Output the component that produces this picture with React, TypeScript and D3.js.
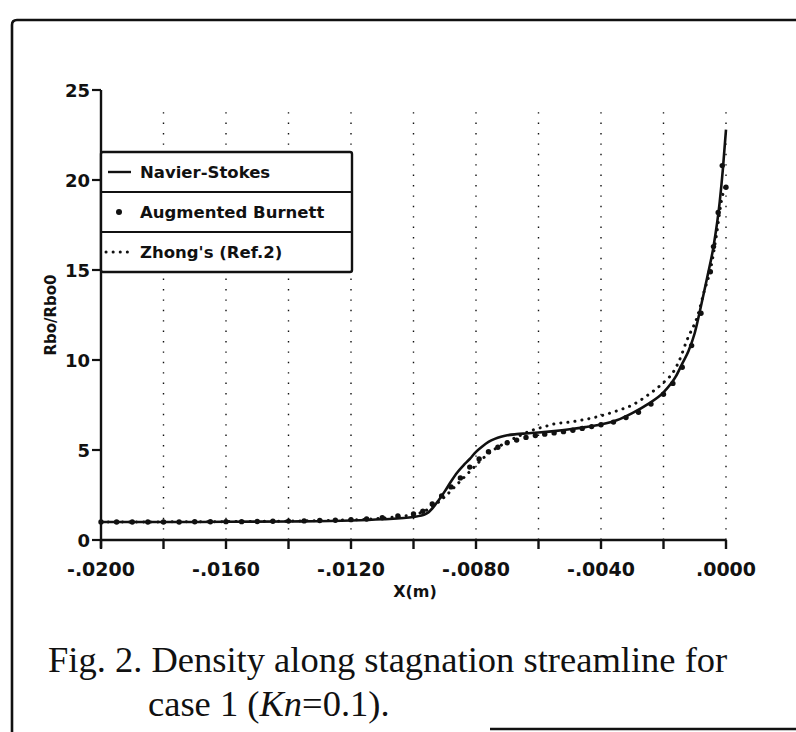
import React from "react";
import * as d3 from "d3";

// Distance from the body along the stagnation streamline, metres
const nsX = [-0.02, -0.018, -0.016, -0.014, -0.012, -0.011, -0.01, -0.0096, -0.0094, -0.0092, -0.009, -0.0088, -0.0086, -0.0084, -0.0082, -0.008, -0.0078, -0.0076, -0.0074, -0.0072, -0.007, -0.0067, -0.0064, -0.006, -0.0055, -0.005, -0.0045, -0.004, -0.0035, -0.003, -0.0025, -0.002, -0.0016, -0.0014, -0.0012, -0.001, -0.0008, -0.0006, -0.0004, -0.0002, -0.0001, 0];
const nsRho = [1.0, 1.0, 1.01, 1.03, 1.08, 1.15, 1.28, 1.45, 1.75, 2.2, 2.7, 3.25, 3.75, 4.15, 4.5, 4.9, 5.2, 5.45, 5.62, 5.74, 5.82, 5.88, 5.92, 5.97, 6.05, 6.15, 6.27, 6.42, 6.65, 7.05, 7.55, 8.2, 9.1, 9.8, 10.5, 11.5, 13.0, 14.6, 16.3, 18.8, 20.6, 22.8];

const abX = [-0.02, -0.0195, -0.019, -0.0185, -0.018, -0.0175, -0.017, -0.0165, -0.016, -0.0155, -0.015, -0.0145, -0.014, -0.0135, -0.013, -0.0125, -0.012, -0.0115, -0.011, -0.0105, -0.01, -0.0097, -0.0094, -0.0091, -0.0088, -0.0085, -0.0082, -0.0079, -0.0076, -0.0073, -0.007, -0.0067, -0.0064, -0.0061, -0.0058, -0.0055, -0.0052, -0.0049, -0.0046, -0.0043, -0.004, -0.0036, -0.0032, -0.0028, -0.0024, -0.002, -0.0017, -0.0014, -0.0011, -0.0008, -0.0005, -0.0004, -0.00025, -0.00012, 0];
const abRho = [1.0, 1.0, 1.0, 1.0, 1.0, 1.0, 1.01, 1.01, 1.02, 1.02, 1.03, 1.04, 1.05, 1.06, 1.08, 1.1, 1.13, 1.17, 1.24, 1.33, 1.45, 1.6, 2.0, 2.45, 2.95, 3.45, 4.05, 4.5, 4.9, 5.15, 5.4, 5.55, 5.7, 5.8, 5.88, 5.95, 6.02, 6.1, 6.2, 6.3, 6.4, 6.55, 6.8, 7.1, 7.55, 8.1, 8.7, 9.6, 10.8, 12.6, 14.9, 16.3, 18.2, 20.8, 19.6];

const zhX = [-0.02, -0.016, -0.012, -0.0105, -0.0098, -0.0094, -0.009, -0.0086, -0.0082, -0.0078, -0.0074, -0.007, -0.0066, -0.0062, -0.0058, -0.0055, -0.005, -0.0045, -0.004, -0.0035, -0.003, -0.0025, -0.002, -0.0017, -0.0015, -0.00125, -0.0009, -0.0007, -0.0005, -0.0003, -0.00015, 0];
const zhRho = [1.0, 1.02, 1.12, 1.3, 1.5, 1.85, 2.4, 3.1, 3.8, 4.5, 5.05, 5.45, 5.8, 6.1, 6.3, 6.45, 6.55, 6.7, 6.9, 7.17, 7.5, 8.05, 8.75, 9.3, 9.95, 11.1, 12.5, 13.8, 15.0, 17.0, 18.8, 19.8];

const xTicks = [-0.02, -0.018, -0.016, -0.014, -0.012, -0.01, -0.008, -0.006, -0.004, -0.002, 0];
const xTickLabels = [-0.02, -0.016, -0.012, -0.008, -0.004, 0];
const yTicks = [0, 5, 10, 15, 20, 25];
const legendLabels = ["Navier-Stokes", "Augmented Burnett", "Zhong's (Ref.2)"];

const AXIS_FONT = "'DejaVu Sans', sans-serif";
const SERIF = "'Liberation Serif', 'Times New Roman', serif";

const fmtX = (v: number) => {
  const s = Math.abs(v).toFixed(4).replace(/^0/, "");
  return v < 0 ? "-" + s : s;
};

export default function App() {
  const x = d3.scaleLinear().domain([-0.02, 0]).range([101, 726]);
  const y = d3.scaleLinear().domain([0, 25]).range([540, 90]);

  const ns = nsX.map((v, i) => [v, nsRho[i]] as [number, number]);
  const ab = abX.map((v, i) => [v, abRho[i]] as [number, number]);
  const zh = zhX.map((v, i) => [v, zhRho[i]] as [number, number]);

  const line = d3
    .line<[number, number]>()
    .x((d) => x(d[0]))
    .y((d) => y(d[1]))
    .curve(d3.curveMonotoneX);

  const ink = "#111";
  const legX = 101;
  const legY = 152;
  const rowH = 40;
  const legW = 251;

  return (
    <svg
      width={796}
      height={732}
      style={{ position: "absolute", left: 0, top: 0, background: "#fff" }}
    >
      {/* page frame */}
      <path d="M12,732 L12,25 Q12,20 17,20 L796,20" fill="none" stroke={ink} strokeWidth={2.6} />
      <line x1={490} x2={796} y1={729} y2={729} stroke={ink} strokeWidth={2.6} />

      {/* dotted vertical grid */}
      {xTicks.slice(1).map((t) => (
        <line
          key={"g" + t}
          x1={x(t)}
          x2={x(t)}
          y1={y(0)}
          y2={y(24)}
          stroke={ink}
          strokeWidth={1.4}
          strokeDasharray="1.4 9"
        />
      ))}

      {/* axes */}
      <line x1={x(-0.02)} x2={x(-0.02)} y1={y(25)} y2={y(0) + 8} stroke={ink} strokeWidth={2.4} />
      <line x1={x(-0.02)} x2={x(0)} y1={y(0)} y2={y(0)} stroke={ink} strokeWidth={2.6} />
      {xTicks.map((t) => (
        <line key={"xt" + t} x1={x(t)} x2={x(t)} y1={y(0)} y2={y(0) + 9} stroke={ink} strokeWidth={2.4} />
      ))}
      {xTickLabels.map((t) => (
        <text
          key={"xl" + t}
          x={x(t)}
          y={576}
          textAnchor="middle"
          fontFamily={AXIS_FONT}
          fontWeight="bold"
          fontSize={19}
          fill={ink}
        >
          {fmtX(t)}
        </text>
      ))}
      {yTicks.map((t) => (
        <g key={"yt" + t}>
          <line x1={x(-0.02) - 9} x2={x(-0.02)} y1={y(t)} y2={y(t)} stroke={ink} strokeWidth={2.2} />
          <text
            x={x(-0.02) - 11}
            y={y(t) + 6.5}
            textAnchor="end"
            fontFamily={AXIS_FONT}
            fontWeight="bold"
            fontSize={18}
            fill={ink}
          >
            {t}
          </text>
        </g>
      ))}
      <text
        x={415}
        y={597}
        textAnchor="middle"
        fontFamily={AXIS_FONT}
        fontWeight="bold"
        fontSize={16}
        fill={ink}
      >
        X(m)
      </text>
      <text
        transform="translate(56,315) rotate(-90)"
        textAnchor="middle"
        fontFamily={AXIS_FONT}
        fontWeight="bold"
        fontSize={15}
        fill={ink}
      >
        Rbo/Rbo0
      </text>

      {/* series */}
      <path d={line(zh) ?? ""} fill="none" stroke={ink} strokeWidth={3} strokeLinecap="round" strokeDasharray="0.1 7" />
      {ab.map((d, i) => (
        <circle key={"ab" + i} cx={x(d[0])} cy={y(d[1])} r={2.7} fill={ink} />
      ))}
      <path d={line(ns) ?? ""} fill="none" stroke={ink} strokeWidth={2.6} />

      {/* legend */}
      <rect x={legX} y={legY} width={legW} height={rowH * 3} fill="#fff" stroke={ink} strokeWidth={2.4} rx={2} />
      {[1, 2].map((r) => (
        <line key={"lr" + r} x1={legX} x2={legX + legW} y1={legY + rowH * r} y2={legY + rowH * r} stroke={ink} strokeWidth={2} />
      ))}
      <line x1={108} x2={131} y1={legY + 20} y2={legY + 20} stroke={ink} strokeWidth={2.4} />
      <circle cx={119} cy={legY + rowH + 20} r={3} fill={ink} />
      <line x1={106} x2={131} y1={legY + 2 * rowH + 20} y2={legY + 2 * rowH + 20} stroke={ink} strokeWidth={3} strokeLinecap="round" strokeDasharray="0.1 7" />
      {legendLabels.map((l, i) => (
        <text
          key={l}
          x={140}
          y={legY + rowH * i + 26}
          fontFamily={AXIS_FONT}
          fontWeight="bold"
          fontSize={16.5}
          fill={ink}
        >
          {l}
        </text>
      ))}

      {/* caption */}
      <text x={48} y={672} fontFamily={SERIF} fontSize={36.5} fill={ink}>
        Fig. 2. Density along stagnation streamline for
      </text>
      <text x={148} y={716} fontFamily={SERIF} fontSize={36.5} fill={ink}>
        case 1 (<tspan fontStyle="italic">Kn</tspan>=0.1).
      </text>
    </svg>
  );
}
